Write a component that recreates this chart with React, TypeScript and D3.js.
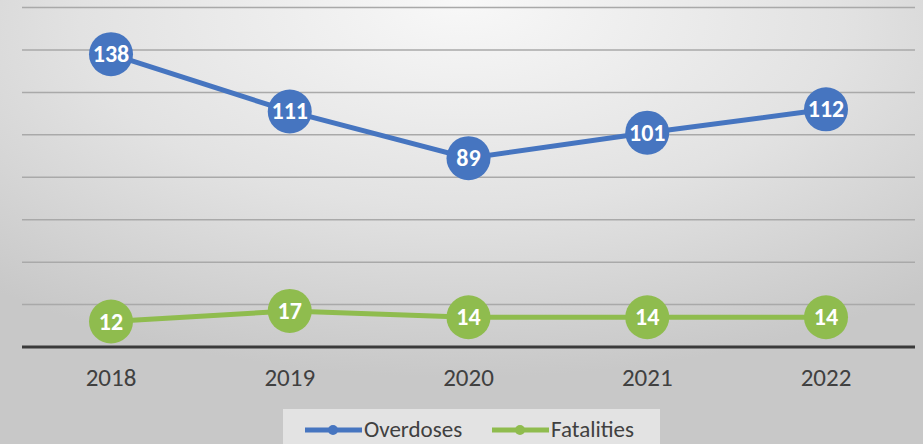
import React from "react";
import * as d3 from "d3";

const years = ["2018", "2019", "2020", "2021", "2022"];
const overdoses = [138, 111, 89, 101, 112];
const fatalities = [12, 17, 14, 14, 14];
const yTicks = [0, 20, 40, 60, 80, 100, 120, 140, 160];
const seriesNames = ["Overdoses", "Fatalities"];
const seriesColors = ["#4675c0", "#8fbc4e"];

const W = 923;
const H = 444;

export default function App() {
  const x = d3.scalePoint<string>().domain(years).range([111, 826]);
  const y = d3.scaleLinear().domain([0, 160]).range([347, 7.5]);
  const line = d3
    .line<number>()
    .x((_, i) => x(years[i]) as number)
    .y((d) => y(d));
  const series = [overdoses, fatalities];
  const font = "Carlito, Calibri, 'Open Sans', 'Noto Sans', sans-serif";

  return (
    <svg
      width={W}
      height={H}
      style={{ position: "absolute", left: 0, top: 0 }}
      fontFamily={font}
    >
      <defs>
        <radialGradient id="bg" cx="50%" cy="10%" r="75%" fx="50%" fy="0%">
          <stop offset="0%" stopColor="#f8f8f8" />
          <stop offset="55%" stopColor="#e2e2e2" />
          <stop offset="100%" stopColor="#c8c8c8" />
        </radialGradient>
      </defs>
      <rect x={0} y={0} width={W} height={H} fill="url(#bg)" />
      {yTicks.slice(1).map((t) => (
        <line
          key={t}
          x1={22}
          x2={915}
          y1={y(t)}
          y2={y(t)}
          stroke="#a9a9a9"
          strokeWidth={1.5}
        />
      ))}
      <line x1={22} x2={915} y1={y(0)} y2={y(0)} stroke="#3a3a3a" strokeWidth={3} />
      {years.map((yr) => (
        <text
          key={yr}
          x={x(yr)}
          y={386}
          textAnchor="middle"
          fontSize={25}
          fill="#404040"
        >
          {yr}
        </text>
      ))}
      {series.map((s, si) => (
        <g key={si}>
          <path
            d={line(s) || ""}
            fill="none"
            stroke={seriesColors[si]}
            strokeWidth={5}
          />
          {s.map((v, i) => (
            <g key={i}>
              <circle
                cx={x(years[i])}
                cy={y(v)}
                r={22}
                fill={seriesColors[si]}
              />
              <text
                x={x(years[i])}
                y={y(v) + 8}
                textAnchor="middle"
                fontSize={24}
                fontWeight="bold"
                fill="#ffffff"
              >
                {v}
              </text>
            </g>
          ))}
        </g>
      ))}
      <rect x={283} y={409} width={377} height={35} fill="#e8e8e8" opacity={0.85} />
      {seriesNames.map((n, i) => {
        const lx = i === 0 ? 305 : 492;
        return (
          <g key={n}>
            <line
              x1={lx}
              x2={lx + 57}
              y1={430}
              y2={430}
              stroke={seriesColors[i]}
              strokeWidth={5}
            />
            <circle cx={lx + 28} cy={430} r={5} fill={seriesColors[i]} />
            <text x={lx + 59} y={437} fontSize={23} fill="#404040">
              {n}
            </text>
          </g>
        );
      })}
    </svg>
  );
}
